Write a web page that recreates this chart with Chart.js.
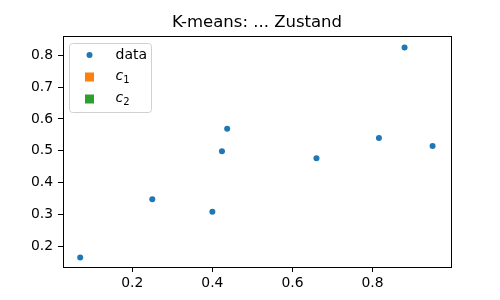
<!DOCTYPE html>
<html>
<head>
<meta charset="utf-8">
<script src="https://cdn.jsdelivr.net/npm/chart.js@4/dist/chart.umd.min.js"></script>
<style>
  html, body { margin: 0; padding: 0; background: #fff; }
  #wrap { width: 500px; height: 300px; }
</style>
</head>
<body>
<div id="wrap"><canvas id="kmChart"></canvas></div>
<script>
// Daten
const dataX = [0.070, 0.250, 0.400, 0.424, 0.437, 0.660, 0.816, 0.880, 0.950];
const dataY = [0.166, 0.348, 0.309, 0.499, 0.569, 0.477, 0.540, 0.824, 0.515];
const c1Points = [];
const c2Points = [];

const xTicks = [0.2, 0.4, 0.6, 0.8];
const yTicks = [0.2, 0.3, 0.4, 0.5, 0.6, 0.7, 0.8];

const titleText = 'K-means: ... Zustand';
const FONT = "'DejaVu Sans', sans-serif";

const BLUE   = '#1f77b4';
const ORANGE = '#ff7f0e';
const GREEN  = '#2ca02c';

// ─── Titel, Rahmen + Legende im Stil von matplotlib ─────────────────────────
const framePlugin = {
  id: 'frame',
  afterDraw(chart) {
    const { ctx, chartArea: a } = chart;
    ctx.save();

    // Titel zentriert über der Achsenfläche
    ctx.fillStyle = '#000';
    ctx.font = '16.5px ' + FONT;
    ctx.textAlign = 'center';
    ctx.textBaseline = 'alphabetic';
    ctx.fillText(titleText, (a.left + a.right) / 2, a.top - 9);

    ctx.strokeStyle = '#000';
    ctx.lineWidth = 1;
    ctx.strokeRect(Math.round(a.left) + 0.5, Math.round(a.top) + 0.5,
                   Math.round(a.right - a.left), Math.round(a.bottom - a.top));

    // Legende oben links
    const bx = a.left + 6.5, by = a.top + 7.5, bw = 82, bh = 69;
    ctx.beginPath();
    ctx.roundRect(bx, by, bw, bh, 3);
    ctx.fillStyle = 'rgba(255,255,255,0.8)';
    ctx.fill();
    ctx.strokeStyle = '#d0d0d0';
    ctx.stroke();

    const mx = bx + 20, tx = bx + 46;
    const rows = [by + 11.5, by + 33.5, by + 55.5];
    chart.data.datasets.forEach((ds, i) => {
      const y = rows[i];
      ctx.fillStyle = ds.backgroundColor;
      if (ds.pointStyle === 'rect') {
        ctx.fillRect(mx - 4.5, y - 4.5, 9, 9);
      } else {
        ctx.beginPath();
        ctx.arc(mx, y, 3, 0, Math.PI * 2);
        ctx.fill();
      }
      ctx.fillStyle = '#000';
      ctx.textBaseline = 'middle';
      ctx.textAlign = 'left';
      if (ds.sub) {
        ctx.font = 'italic 14px ' + FONT;
        ctx.fillText(ds.label, tx, y - 1);
        const w = ctx.measureText(ds.label).width;
        ctx.font = '10px ' + FONT;
        ctx.fillText(ds.sub, tx + w, y + 3);
      } else {
        ctx.font = '14px ' + FONT;
        ctx.fillText(ds.label, tx, y);
      }
    });
    ctx.restore();
  }
};

const ctx = document.getElementById('kmChart').getContext('2d');

new Chart(ctx, {
  type: 'scatter',
  data: {
    datasets: [
      {
        label: 'data',
        data: dataX.map((x, i) => ({ x, y: dataY[i] })),
        backgroundColor: BLUE,
        borderColor: BLUE,
        pointRadius: 3,
        pointBorderWidth: 0,
        pointStyle: 'circle'
      },
      {
        label: 'c', sub: '1',
        data: c1Points,
        backgroundColor: ORANGE,
        borderColor: ORANGE,
        pointStyle: 'rect',
        pointRadius: 5
      },
      {
        label: 'c', sub: '2',
        data: c2Points,
        backgroundColor: GREEN,
        borderColor: GREEN,
        pointStyle: 'rect',
        pointRadius: 5
      }
    ]
  },
  options: {
    responsive: true,
    maintainAspectRatio: false,
    animation: false,
    layout: { padding: { left: 0, right: 49, top: 36, bottom: 0 } },
    plugins: {
      legend: { display: false },
      tooltip: { enabled: false },
      title: { display: false }
    },
    scales: {
      x: {
        type: 'linear',
        min: 0.027,
        max: 0.996,
        afterBuildTicks: s => { s.ticks = xTicks.map(v => ({ value: v })); },
        afterFit: s => { s.height = 33; },
        grid: { drawOnChartArea: false, color: '#000', tickLength: 5, tickWidth: 1 },
        border: { display: false },
        ticks: {
          color: '#000',
          font: { size: 13.9, family: FONT },
          padding: 3,
          maxRotation: 0,
          callback: v => v.toFixed(1)
        }
      },
      y: {
        type: 'linear',
        min: 0.136,
        max: 0.860,
        afterBuildTicks: s => { s.ticks = yTicks.map(v => ({ value: v })); },
        afterFit: s => { s.width = 63; },
        grid: { drawOnChartArea: false, color: '#000', tickLength: 5, tickWidth: 1 },
        border: { display: false },
        ticks: {
          color: '#000',
          font: { size: 13.9, family: FONT },
          padding: 5,
          callback: v => v.toFixed(1)
        }
      }
    }
  },
  plugins: [framePlugin]
});
</script>
</body>
</html>
